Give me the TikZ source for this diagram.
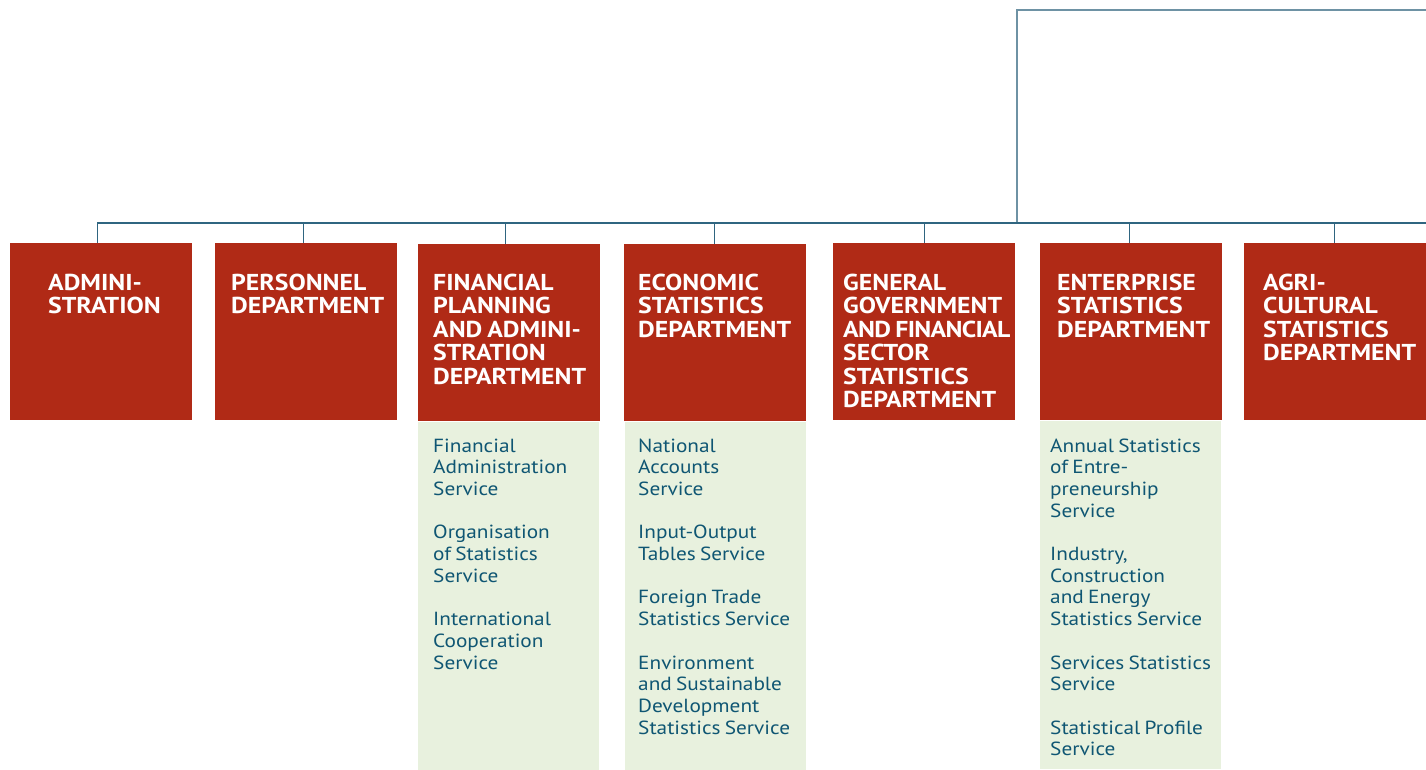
\documentclass[tikz,border=0pt]{standalone}
\usepackage{fontspec}
\setmainfont{PT Sans}[FakeStretch=1.12,WordSpace=0.75]
\definecolor{deptred}{HTML}{B02A16}
\definecolor{svcgreen}{HTML}{E8F1DE}
\definecolor{linecol}{HTML}{2F6580}
\definecolor{toplinecol}{HTML}{6E92A4}
\definecolor{svctext}{HTML}{0F5673}
\newcommand{\hdtext}[1]{\parbox[t]{185pt}{\raggedright #1}}
\newcommand{\svtext}[1]{\parbox[t]{175pt}{\raggedright #1}}
\tikzset{
  dept/.style={anchor=north west, fill=deptred, draw=none, inner sep=0,
    minimum width=182pt, minimum height=177pt},
  svcbox/.style={anchor=north west, fill=svcgreen, draw=none, inner sep=0,
    minimum width=181pt, minimum height=348pt},
  hd/.style={anchor=base west, inner sep=0, text=white,
    font=\bfseries\fontsize{23}{23.5}\selectfont},
  sv/.style={anchor=base west, inner sep=0, text=svctext,
    font=\fontsize{19}{21.7}\selectfont},
  conn/.style={draw=linecol, line width=1.2pt},
  topconn/.style={draw=toplinecol, line width=1.6pt}
}
\begin{document}
\begin{tikzpicture}[x=1pt,y=-1pt]
\useasboundingbox (0,0) rectangle (1426,769);
\clip (0,0) rectangle (1426,769);

% department boxes
\node[dept] (d1) at (10,243) {};
\node[dept] (d2) at (215,243) {};
\node[dept] (d3) at (418,244) {};
\node[dept] (d4) at (624,244) {};
\node[dept] (d5) at (833,243) {};
\node[dept] (d6) at (1040,243) {};
\node[dept] (d7) at (1244,243) {};

% service panels
\node[svcbox] (g3) at (d3.south west) {};
\node[svcbox] (g4) at ([xshift=1pt]d4.south west) {};
\node[svcbox] (g6) at (d6.south west) {};

% connectors
\coordinate (busR) at (1440,223);
\coordinate (topR) at (1440,10);
\coordinate (topL) at (1017,10);
\coordinate (busJ) at (1017,223);
\draw[topconn] (topR) -- (topL) -- (busJ);
\draw[conn] ([xshift=-4pt]d1.north) |- (busR);
\foreach \d/\s in {d2/-3,d3/-4,d4/-1,d5/0,d6/-2,d7/-1}{
  \draw[conn] ([xshift=\s pt]\d.north) -- ++(0,-20);
}

% headings
\node[hd] (h1) at (48,290) {\hdtext{ADMINI-\\STRATION}};
\node[hd] (h2) at (231,290) {\hdtext{PERSONNEL\\DEPARTMENT}};
\node[hd] (h3) at (433,290) {\hdtext{FINANCIAL\\PLANNING\\AND ADMINI-\\STRATION\\DEPARTMENT}};
\node[hd] (h4) at (638,290) {\hdtext{ECONOMIC\\STATISTICS\\DEPARTMENT}};
\node[hd] (h5) at (843,290) {\hdtext{GENERAL\\GOVERNMENT\\{\addfontfeatures{LetterSpace=-3}AND FINANCIAL}\\SECTOR\\STATISTICS\\DEPARTMENT}};
\node[hd] (h6) at (1057,290) {\hdtext{ENTERPRISE\\STATISTICS\\DEPARTMENT}};
\node[hd] (h7) at (1263,290) {\hdtext{AGRI-\\CULTURAL\\STATISTICS\\DEPARTMENT}};

% services
\node[sv] (s3) at (433,452) {\svtext{Financial\\Administration\\Service\\[21.7pt]Organisation\\of Statistics\\Service\\[21.7pt]International\\Cooperation\\Service}};
\node[sv] (s4) at (638,452) {\svtext{National\\Accounts\\Service\\[21.7pt]Input-Output\\Tables Service\\[21.7pt]Foreign Trade\\Statistics Service\\[21.7pt]Environment\\and Sustainable\\Development\\Statistics Service}};
\node[sv] (s6) at (1050,452) {\svtext{Annual Statistics\\of Entre-\\preneurship\\Service\\[21.7pt]Industry,\\Construction\\and Energy\\Statistics Service\\[21.7pt]Services Statistics\\Service\\[21.7pt]Statistical Profile\\Service}};
\end{tikzpicture}
\end{document}
